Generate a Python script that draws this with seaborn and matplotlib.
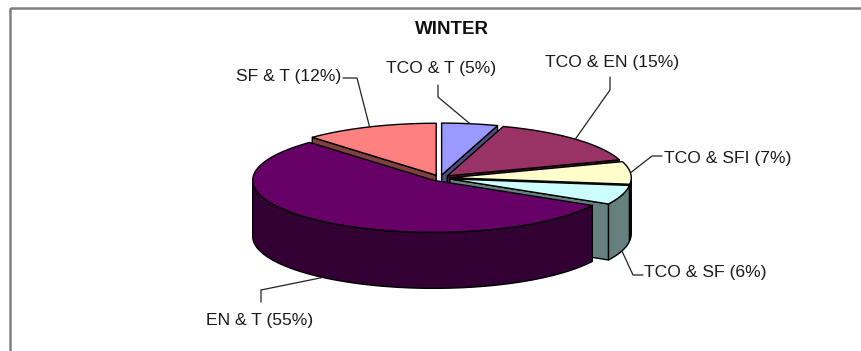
import numpy as np
import matplotlib
matplotlib.use("Agg")
import matplotlib.pyplot as plt
import seaborn as sns
from matplotlib.patches import Polygon, Rectangle

# Winter shares by category
categories = ["TCO & T", "TCO & EN", "TCO & SFI", "TCO & SF", "EN & T", "SF & T"]
shares = [5, 15, 7, 6, 55, 12]
slice_colors = ["#9999FF", "#993366", "#FFFFCC", "#CCFFFF", "#660066", "#FF8080"]
chart_title = "WINTER"

sns.set_theme(style="white")
plt.rcParams["font.family"] = ["Liberation Sans", "DejaVu Sans"]

W, H = 862, 351
fig = plt.figure(figsize=(W / 100, H / 100), dpi=100)
ax = fig.add_axes([0, 0, 1, 1])
ax.set_xlim(0, W)
ax.set_ylim(H, 0)
ax.axis("off")

# chart area frame
ax.add_patch(Rectangle((10, 8), 900, 400, fill=False, edgecolor="#7f7f7f",
                       linewidth=1.8, zorder=0))

# 3D pie geometry (pixel units, y pointing down)
CX, CY = 440, 178
RX, RY = 181, 52
DEPTH = 56
EXPLODE = 0.057


def shade(c, f=0.5):
    r, g, b = matplotlib.colors.to_rgb(c)
    return (r * f, g * f, b * f)


def rim_pt(theta, ox, oy, dz=0.0):
    t = np.radians(theta)
    return ox + RX * np.sin(t), oy - RY * np.cos(t) + dz


def arc(t0, t1, ox, oy, dz=0.0):
    ts = np.linspace(t0, t1, max(2, int(abs(t1 - t0) / 2) + 2))
    return [rim_pt(t, ox, oy, dz) for t in ts]


total = float(sum(shares))
bounds = np.concatenate([[0], np.cumsum(shares)]) / total * 360.0

walls = []   # (sort key, polygon points, colour)
tops = []
anchors = []
for i, (cat, val, col) in enumerate(zip(categories, shares, slice_colors)):
    t0, t1 = bounds[i], bounds[i + 1]
    mid = (t0 + t1) / 2
    ox = CX + EXPLODE * RX * np.sin(np.radians(mid))
    oy = CY - EXPLODE * RY * np.cos(np.radians(mid))
    dark = shade(col)

    # outer wall on the front half
    a0, a1 = max(t0, 90), min(t1, 270)
    if a1 > a0:
        top_edge = arc(a0, a1, ox, oy)
        bot_edge = arc(a0, a1, ox, oy, DEPTH)
        pts = top_edge + bot_edge[::-1]
        walls.append((max(p[1] for p in pts), pts, dark))
    # radial walls that face the viewer
    for edge, normal in ((t0, t0 - 90), (t1, t1 + 90)):
        if np.cos(np.radians(normal)) < -1e-6:
            rx, ry = rim_pt(edge, ox, oy)
            pts = [(ox, oy), (rx, ry), (rx, ry + DEPTH), (ox, oy + DEPTH)]
            walls.append((max(p[1] for p in pts), pts, dark))

    tops.append([(ox, oy)] + arc(t0, t1, ox, oy))

    # leader anchor: top rim for the back, bottom rim for the front
    c = np.cos(np.radians(mid))
    anchors.append(rim_pt(mid, ox, oy, 0 if c > 0 else DEPTH))

walls.sort(key=lambda w: w[0])
z = 2
for _, pts, col in walls:
    ax.add_patch(Polygon(pts, closed=True, facecolor=col, edgecolor="black",
                         linewidth=1.0, joinstyle="round", zorder=z))
    z += 0.01
for pts, col in zip(tops, slice_colors):
    ax.add_patch(Polygon(pts, closed=True, facecolor=col, edgecolor="black",
                         linewidth=1.0, joinstyle="round", zorder=5))

# label layout: elbow of leader, end of leader, text position, alignment
label_layout = [
    ((438, 97), (438, 85), (441, 68), "center"),
    ((610, 90), (610, 77), (612, 62), "center"),
    ((652, 156), (662, 156), (664, 158), "left"),
    ((633, 275), (643, 275), (644, 273), "left"),
    ((261, 290), (261, 302), (260, 320), "center"),
    ((357, 78), (343, 78), (341, 77), "right"),
]

for cat, val, anc, (elbow, end, txt, ha) in zip(categories, shares, anchors, label_layout):
    ax.plot([anc[0], elbow[0], end[0]], [anc[1], elbow[1], end[1]],
            color="#222222", linewidth=0.9, zorder=6)
    ax.text(txt[0], txt[1], f"{cat} ({val}%)", ha=ha, va="center",
            fontsize=12.6, color="#1a1a1a", zorder=7)

ax.text(452, 30, chart_title, ha="center", va="center", fontsize=13.5,
        fontweight="bold", color="#111111")

fig.savefig("out.png", dpi=100)
